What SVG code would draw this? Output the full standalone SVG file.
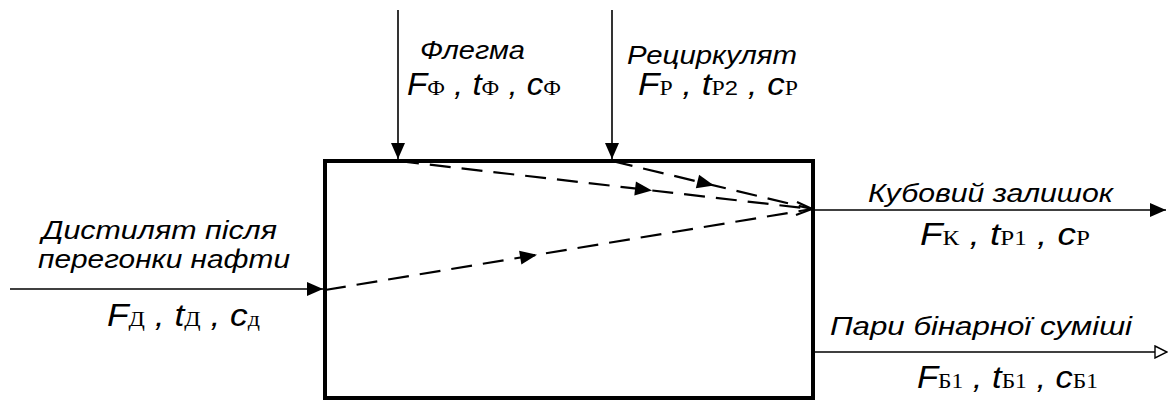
<svg xmlns="http://www.w3.org/2000/svg" width="1169" height="410" viewBox="0 0 1169 410">
<style>
.lbl{font-family:"Liberation Sans",Arial,sans-serif;font-style:italic;font-size:26px;fill:#000}
.v{font-family:"Liberation Sans",Arial,sans-serif;font-style:italic;font-size:31px;fill:#000}
.s{font-family:"Liberation Serif","Times New Roman",serif;font-style:normal;font-size:21px}
.sa{font-family:"Liberation Sans",Arial,sans-serif;font-style:normal;font-size:21px}
.ln{stroke:#000;stroke-width:1.6;fill:none}
.dash{stroke:#000;stroke-width:2.2;fill:none;stroke-dasharray:21 11}
</style>
<defs>
<marker id="ah" markerWidth="16" markerHeight="14" refX="16" refY="7" orient="auto" markerUnits="userSpaceOnUse">
<path d="M0,0 L16,7 L0,14 Z" fill="#000"/>
</marker>
<marker id="ao" markerWidth="14" markerHeight="14" refX="13" refY="7" orient="auto" markerUnits="userSpaceOnUse">
<path d="M1,1 L13,7 L1,13 Z" fill="#fff" stroke="#000" stroke-width="1.4"/>
</marker>
<path id="tri" d="M-17,-7 L0,0 L-17,7 Z" fill="#000"/>
</defs>

<g id="box">
<rect x="325" y="161" width="488" height="237" fill="none" stroke="#000" stroke-width="4"/>
</g>

<g id="connectors">
<line class="ln" x1="398" y1="10" x2="398" y2="159" marker-end="url(#ah)"/>
<line class="ln" x1="612" y1="10" x2="612" y2="159" marker-end="url(#ah)"/>
<line class="ln" x1="10" y1="289" x2="323" y2="289" marker-end="url(#ah)"/>
<line class="ln" x1="815" y1="210" x2="1166" y2="210" marker-end="url(#ah)"/>
<line class="ln" x1="815" y1="352" x2="1167" y2="352" marker-end="url(#ao)"/>
<path class="dash" d="M398,161 L812,209"/>
<path class="dash" d="M612,161 L812,209"/>
<path class="dash" d="M325,290 L812,209"/>
<path d="M797,202 L812,209 L796,215" fill="none" stroke="#000" stroke-width="2.2"/>
<use href="#tri" transform="translate(652,190.4) rotate(6.6)"/>
<use href="#tri" transform="translate(714,185.5) rotate(13.5)"/>
<use href="#tri" transform="translate(537,254.8) rotate(-9.44)"/>
</g>

<g id="flegma">
<text class="lbl" x="420" y="59" textLength="105" lengthAdjust="spacingAndGlyphs">Флегма</text>
<text class="v" x="407" y="95" textLength="154" lengthAdjust="spacingAndGlyphs">F<tspan class="s">Ф</tspan> , t<tspan class="s">Ф</tspan> , c<tspan class="s">Ф</tspan></text>
</g>

<g id="recirk">
<text class="lbl" x="627" y="64" textLength="170" lengthAdjust="spacingAndGlyphs">Рециркулят</text>
<text class="v" x="638" y="95" textLength="160" lengthAdjust="spacingAndGlyphs">F<tspan class="s">Р</tspan> , t<tspan class="s">Р</tspan><tspan class="sa">2</tspan> , c<tspan class="s">Р</tspan></text>
</g>

<g id="distylat">
<text class="lbl" x="42" y="239" textLength="235" lengthAdjust="spacingAndGlyphs">Дистилят після</text>
<text class="lbl" x="38" y="268" textLength="252" lengthAdjust="spacingAndGlyphs">перегонки нафти</text>
<text class="v" x="107" y="326" textLength="153" lengthAdjust="spacingAndGlyphs">F<tspan class="s">Д</tspan> , t<tspan class="s">Д</tspan> , c<tspan class="s" font-size="16">д</tspan></text>
</g>

<g id="kubovyi">
<text class="lbl" x="868" y="202" textLength="245" lengthAdjust="spacingAndGlyphs">Кубовий залишок</text>
<text class="v" x="920" y="245" textLength="170" lengthAdjust="spacingAndGlyphs">F<tspan class="s">К</tspan> , t<tspan class="s">Р1</tspan> , c<tspan class="s">Р</tspan></text>
</g>

<g id="pary">
<text class="lbl" x="830" y="335" textLength="302" lengthAdjust="spacingAndGlyphs">Пари бінарної суміші</text>
<text class="v" x="917" y="388" textLength="181" lengthAdjust="spacingAndGlyphs">F<tspan class="s">Б1</tspan> , t<tspan class="s">Б1</tspan> , c<tspan class="s">Б1</tspan></text>
</g>
</svg>
